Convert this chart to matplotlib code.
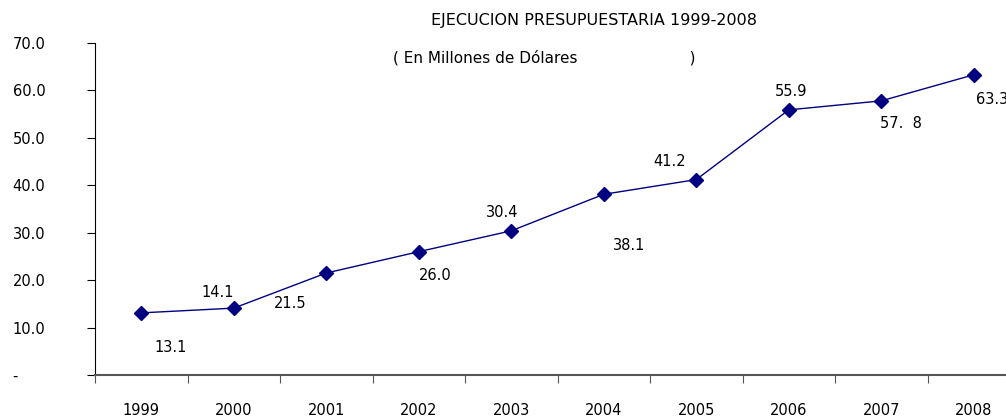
import matplotlib
matplotlib.use('Agg')
import matplotlib.pyplot as plt

years = ['1999', '2000', '2001', '2002', '2003', '2004', '2005', '2006', '2007', '2008']
values = [13.1, 14.1, 21.5, 26.0, 30.4, 38.1, 41.2, 55.9, 57.8, 63.3]
value_labels = ['13.1', '14.1', '21.5', '26.0', '30.4', '38.1', '41.2', '55.9', '57.  8', '63.3']
y_ticks = [0, 10, 20, 30, 40, 50, 60, 70]
y_tick_labels = ['-', '10.0', '20.0', '30.0', '40.0', '50.0', '60.0', '70.0']

# label offsets in pixels (dx, dy) from each point
offsets = [(29, -35), (-16, 16), (-36, -30), (16, -24), (-9, 18), (25, -51), (-27, 18), (2, 18), (20, -23), (18, -25)]

fig = plt.figure(figsize=(10.06, 4.17), dpi=100)
# axis runs past the right edge of the figure, as in the original
ax = fig.add_axes([95 / 1006, 1 - 375 / 417, 925 / 1006, 332 / 417])

x = list(range(len(years)))
ax.plot(x, values, color='#000080', linewidth=1, marker='D', markersize=7,
        markeredgecolor='#000080', markerfacecolor='#000080')

for xi, v, lab, (dx, dy) in zip(x, values, value_labels, offsets):
    ax.annotate(lab, (xi, v), xytext=(dx * 0.72, dy * 0.72), textcoords='offset points',
                ha='center', va='center', fontsize=10.5, color='black')

ax.set_xlim(-0.5, 9.5)
ax.set_ylim(0, 70)
ax.set_xticks([i + 0.5 for i in range(-1, 10)], minor=False)
ax.set_xticklabels([])
ax.set_xticks(x, minor=True)
ax.set_xticklabels(years, minor=True, fontsize=10.5)
ax.tick_params(axis='x', which='minor', length=0, pad=20)
ax.tick_params(axis='x', which='major', direction='out', length=6, color='#555555')
ax.set_yticks(y_ticks)
ax.set_yticklabels(y_tick_labels, fontsize=10.5)
ax.tick_params(axis='y', direction='out', length=6, pad=40)
for t in ax.get_yticklabels():
    t.set_horizontalalignment('left')
    t.set_x(-0.02)

ax.spines['top'].set_visible(False)
ax.spines['right'].set_visible(False)
ax.spines['bottom'].set_color('#555555')
ax.spines['bottom'].set_linewidth(1.5)

fig.text(594 / 1006, 1 - 20 / 417, 'EJECUCION PRESUPUESTARIA 1999-2008', ha='center', va='center', fontsize=11.5)
fig.text(393 / 1006, 1 - 58 / 417, '( En Millones de Dólares                       )', ha='left', va='center', fontsize=11)

fig.savefig('out.png', dpi=100)
